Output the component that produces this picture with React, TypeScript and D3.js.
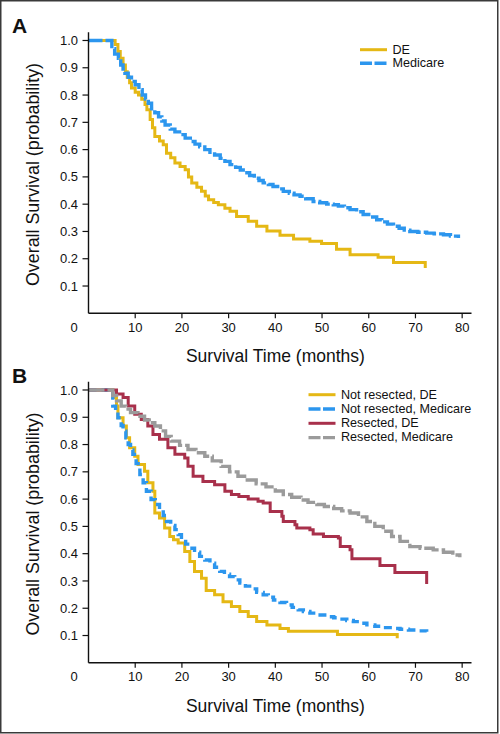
import React from 'react';
import * as d3 from 'd3';

type Pt = [number, number];

const xTicks = [0, 10, 20, 30, 40, 50, 60, 70, 80];
const yTicks = [0.1, 0.2, 0.3, 0.4, 0.5, 0.6, 0.7, 0.8, 0.9, 1.0];

// Panel A
const aDE: Pt[] = [
  [0, 1.0], [5.7, 0.985], [6.3, 0.96], [6.8, 0.935], [7.4, 0.91], [7.9, 0.885], [8.3, 0.865],
  [8.8, 0.845], [9.2, 0.826], [10.0, 0.81], [10.7, 0.8], [11.4, 0.785], [12.1, 0.765], [12.5, 0.746],
  [13.2, 0.71], [13.7, 0.68], [14.2, 0.648], [15.2, 0.632], [16.0, 0.618], [16.7, 0.587], [17.6, 0.57],
  [18.5, 0.551], [19.6, 0.538], [20.7, 0.526], [21.4, 0.5], [22.1, 0.478], [23.2, 0.462], [24.2, 0.447],
  [25.0, 0.43], [25.7, 0.416], [26.8, 0.406], [27.8, 0.398], [29.2, 0.385], [30.3, 0.374], [31.7, 0.355],
  [34.2, 0.337], [36.0, 0.319], [38.2, 0.302], [41.0, 0.286], [43.9, 0.272], [47.4, 0.264], [49.9, 0.256],
  [53.1, 0.235], [56.0, 0.215], [62.0, 0.205], [65.3, 0.186], [72.1, 0.186], [72.1, 0.166],
];
const aMedicare: Pt[] = [
  [0, 1.0], [5.0, 0.97], [5.6, 0.95], [6.4, 0.935], [6.9, 0.91], [7.4, 0.895], [7.8, 0.88], [8.5, 0.865],
  [9.2, 0.85], [10.0, 0.838], [10.8, 0.82], [11.5, 0.8], [12.2, 0.785], [12.8, 0.77], [13.5, 0.75],
  [14.2, 0.735], [15.0, 0.72], [15.7, 0.705], [16.4, 0.69], [17.5, 0.675], [18.5, 0.665], [19.5, 0.655],
  [20.7, 0.642], [21.8, 0.63], [22.8, 0.62], [23.8, 0.61], [24.9, 0.6], [26.0, 0.59], [27.0, 0.58],
  [28.2, 0.568], [29.2, 0.557], [30.3, 0.545], [31.5, 0.535], [32.5, 0.525], [33.5, 0.515], [34.5, 0.505],
  [35.5, 0.495], [36.5, 0.487], [37.4, 0.478], [38.5, 0.472], [39.5, 0.465], [40.5, 0.456], [41.7, 0.447],
  [43.0, 0.44], [44.0, 0.434], [45.3, 0.429], [46.5, 0.42], [48.1, 0.41], [49.5, 0.405], [51.0, 0.4],
  [52.4, 0.398], [53.5, 0.393], [54.8, 0.387], [56.0, 0.38], [57.4, 0.372], [58.8, 0.362], [60.0, 0.353],
  [61.7, 0.343], [62.8, 0.335], [64.0, 0.327], [65.3, 0.319], [66.5, 0.312], [67.6, 0.305], [68.8, 0.3],
  [70.5, 0.297], [72.4, 0.294], [74.0, 0.291], [76.0, 0.288], [77.5, 0.283], [79.2, 0.276],
];

// Panel B
const bNotResDE: Pt[] = [
  [0, 1.0], [5.2, 0.972], [6.0, 0.941], [6.3, 0.898], [7.4, 0.868], [8.1, 0.825], [8.8, 0.788],
  [9.9, 0.757], [10.6, 0.727], [12.0, 0.702], [12.7, 0.66], [13.8, 0.629], [14.2, 0.549], [15.2, 0.531],
  [16.3, 0.494], [17.4, 0.463], [18.2, 0.451], [19.2, 0.439], [20.6, 0.408], [21.7, 0.371], [22.7, 0.335],
  [24.2, 0.31], [25.2, 0.265], [27.0, 0.249], [28.8, 0.224], [30.6, 0.206], [32.4, 0.188], [34.2, 0.17],
  [36.0, 0.151], [38.2, 0.139], [41.0, 0.126], [42.8, 0.116], [53.3, 0.104], [66.1, 0.104], [66.1, 0.09],
];
const bNotResMedicare: Pt[] = [
  [0, 1.0], [5.2, 0.941], [5.8, 0.92], [6.3, 0.898], [7.0, 0.87], [7.4, 0.849], [8.0, 0.825], [8.5, 0.8],
  [9.0, 0.78], [9.5, 0.764], [10.2, 0.73], [11.0, 0.69], [11.7, 0.66], [12.4, 0.629], [13.4, 0.598],
  [14.3, 0.58], [15.2, 0.561], [16.0, 0.54], [16.7, 0.518], [17.6, 0.503], [18.5, 0.488], [19.2, 0.47],
  [19.9, 0.451], [20.8, 0.435], [21.7, 0.42], [22.7, 0.405], [23.8, 0.39], [24.9, 0.377], [26.0, 0.365],
  [27.0, 0.35], [28.1, 0.335], [29.1, 0.325], [30.2, 0.316], [31.3, 0.304], [32.4, 0.292], [33.6, 0.281],
  [34.9, 0.271], [36.0, 0.258], [37.4, 0.249], [38.5, 0.24], [39.6, 0.23], [41.0, 0.221], [42.4, 0.212],
  [43.6, 0.203], [44.9, 0.194], [46.0, 0.188], [47.4, 0.182], [49.0, 0.175], [51.0, 0.169], [52.5, 0.165],
  [53.9, 0.16], [55.3, 0.155], [56.7, 0.151], [58.0, 0.145], [59.6, 0.139], [61.3, 0.134], [63.1, 0.129],
  [65.0, 0.126], [66.7, 0.123], [68.5, 0.12], [70.5, 0.117], [72.4, 0.114],
];
const bResDE: Pt[] = [
  [0, 1.0], [6.0, 0.985], [7.4, 0.972], [8.5, 0.941], [9.9, 0.911], [11.3, 0.892], [12.7, 0.868],
  [13.8, 0.837], [15.2, 0.819], [17.0, 0.788], [18.5, 0.764], [20.6, 0.751], [21.3, 0.72], [22.4, 0.684],
  [24.5, 0.665], [27.0, 0.653], [29.2, 0.629], [30.6, 0.617], [32.2, 0.61], [34.2, 0.6], [36.3, 0.592],
  [37.4, 0.586], [38.9, 0.555], [41.4, 0.537], [41.7, 0.518], [44.2, 0.506], [44.6, 0.494], [47.4, 0.488],
  [48.1, 0.472], [50.3, 0.463], [53.5, 0.457], [53.9, 0.426], [56.0, 0.414], [56.4, 0.381], [62.4, 0.357],
  [65.6, 0.331], [72.4, 0.331], [72.4, 0.289],
];
const bResMedicare: Pt[] = [
  [0, 1.0], [5.2, 0.98], [6.0, 0.96], [7.0, 0.941], [8.0, 0.93], [9.0, 0.917], [10.6, 0.904], [12.0, 0.89],
  [13.0, 0.88], [14.2, 0.868], [15.4, 0.85], [16.5, 0.83], [17.7, 0.8125], [19.5, 0.797], [21.3, 0.782],
  [23.0, 0.77], [24.9, 0.757], [26.5, 0.74], [28.4, 0.72], [30.2, 0.7], [32.0, 0.684], [34.0, 0.67],
  [35.9, 0.656], [38.0, 0.645], [40.0, 0.63], [41.7, 0.617], [43.5, 0.607], [45.5, 0.597], [47.0, 0.588],
  [48.9, 0.58], [50.5, 0.573], [52.5, 0.565], [54.2, 0.557], [56.0, 0.549], [57.8, 0.535], [59.6, 0.518],
  [61.3, 0.5], [63.1, 0.482], [64.9, 0.463], [66.7, 0.445], [68.8, 0.426], [71.0, 0.42], [73.8, 0.414],
  [76.0, 0.405], [78.0, 0.395], [79.5, 0.387],
];

const YELLOW = '#E5B815';
const BLUE = '#2C96EE';
const RED = '#A8304B';
const GRAY = '#9B9B9B';

interface Series {
  name: string;
  data: Pt[];
  color: string;
  dash?: string;
  width: number;
}

const panelA: Series[] = [
  { name: 'DE', data: aDE, color: YELLOW, width: 3 },
  { name: 'Medicare', data: aMedicare, color: BLUE, dash: '14,3', width: 3.4 },
];
const panelB: Series[] = [
  { name: 'Not resected, DE', data: bNotResDE, color: YELLOW, width: 3 },
  { name: 'Not resected, Medicare', data: bNotResMedicare, color: BLUE, dash: '8,5', width: 3.4 },
  { name: 'Resected, DE', data: bResDE, color: RED, width: 3 },
  { name: 'Resected, Medicare', data: bResMedicare, color: GRAY, dash: '16,3', width: 3.4 },
];

const FONT = '"Liberation Sans", Arial, Helvetica, sans-serif';

function Panel(props: {
  dy: number;
  label: string;
  series: Series[];
  legendX: number;
  legendY: number;
  legendGap: number;
}) {
  const { dy, label, series, legendX, legendY, legendGap } = props;
  const x = d3.scaleLinear().domain([0, 82]).range([88.5, 471.5]);
  const y = d3.scaleLinear().domain([0, 1.03]).range([313.3 + dy, 32.3 + dy]);
  const line = d3
    .line<Pt>()
    .x((d) => x(d[0]))
    .y((d) => y(d[1]))
    .curve(d3.curveStepAfter);
  const x0 = x(0);
  const yBase = y(0);
  return (
    <g>
      <text x={12} y={33 + dy} fontFamily={FONT} fontWeight="bold" fontSize={21} fill="#111">
        {label}
      </text>
      {series.map((s) => (
        <path
          key={s.name}
          d={line(s.data) || ''}
          fill="none"
          stroke={s.color}
          strokeWidth={s.width}
          strokeDasharray={s.dash}
          strokeLinejoin="miter"
        />
      ))}
      {/* axes */}
      <line x1={x0} x2={x0} y1={y(1.03)} y2={yBase} stroke="#111" strokeWidth={1.4} />
      <line x1={x0} x2={x(82)} y1={yBase} y2={yBase} stroke="#111" strokeWidth={1.4} />
      {yTicks.map((t) => (
        <g key={t}>
          <line x1={x0 - 6} x2={x0} y1={y(t)} y2={y(t)} stroke="#111" strokeWidth={1.2} />
          <text
            x={x0 - 10.5}
            y={y(t) + 4.6}
            textAnchor="end"
            fontFamily={FONT}
            fontSize={13}
            fill="#111"
          >
            {t.toFixed(1)}
          </text>
        </g>
      ))}
      {xTicks.map((t) => (
        <g key={t}>
          {t > 0 && <line x1={x(t)} x2={x(t)} y1={yBase} y2={yBase + 5} stroke="#111" strokeWidth={1.2} />}
          <text
            x={t === 0 ? x(t) - 14.5 : x(t)}
            y={yBase + 18.4}
            textAnchor="middle"
            fontFamily={FONT}
            fontSize={13}
            fill="#111"
          >
            {t}
          </text>
        </g>
      ))}
      <text
        x={275.4}
        y={362 + dy}
        textAnchor="middle"
        fontFamily={FONT}
        fontSize={19}
        textLength={179}
        lengthAdjust="spacingAndGlyphs"
        fill="#111"
      >
        Survival Time (months)
      </text>
      <text
        transform={`translate(38.5, ${174.5 + dy}) rotate(-90)`}
        textAnchor="middle"
        fontFamily={FONT}
        fontSize={19}
        textLength={223}
        lengthAdjust="spacingAndGlyphs"
        fill="#111"
      >
        Overall Survival (probability)
      </text>
      {/* legend */}
      {series.map((s, i) => (
        <g key={'lg' + s.name}>
          <line
            x1={legendX}
            x2={legendX + 27}
            y1={legendY + i * legendGap}
            y2={legendY + i * legendGap}
            stroke={s.color}
            strokeWidth={s.width}
            strokeDasharray={s.dash ? '12,2.5' : undefined}
          />
          <text
            x={legendX + 32.5}
            y={legendY + i * legendGap + 3.8}
            fontFamily={FONT}
            fontSize={12.6}
            fill="#111"
          >
            {s.name}
          </text>
        </g>
      ))}
    </g>
  );
}

export default function App() {
  return (
    <svg
      width={500}
      height={734}
      style={{ position: 'absolute', left: 0, top: 0, background: '#fff' }}
    >
      <rect x={0} y={0} width={500} height={734} fill="#fff" />
      <Panel dy={0} label="A" series={panelA} legendX={360} legendY={49.7} legendGap={13.6} />
      <Panel dy={349.5} label="B" series={panelB} legendX={308.5} legendY={394.7} legendGap={14.3} />
      <rect x={0.75} y={0.75} width={497} height={732} fill="none" stroke="#3a3a3a" strokeWidth={1.5} />
    </svg>
  );
}
